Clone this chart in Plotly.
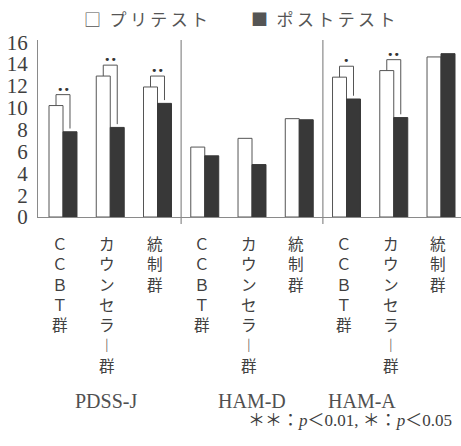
import plotly.graph_objects as go

# Scores before and after treatment, three scales x three groups
scales = ["PDSS-J", "HAM-D", "HAM-A"]
groups = ["ＣＣＢＴ群", "カウンセラ︱群", "統制群"]
pre_scores = [10.2, 12.9, 11.9, 6.4, 7.2, 9.0, 12.8, 13.4, 14.65]
post_scores = [7.8, 8.2, 10.4, 5.6, 4.8, 8.9, 10.8, 9.1, 14.95]
significance = ["**", "**", "**", "", "", "", "*", "**", ""]
y_ticks = [0, 2, 4, 6, 8, 10, 12, 14, 16]

W, H = 461, 446
ML, MR, MT, MB = 38, 0, 40, 229
PW, PH = W - ML - MR, H - MT - MB

SERIF = "'Liberation Serif', 'DejaVu Serif', serif"
JP = "'Noto Sans CJK JP', sans-serif"
TXT = "#404040"
LINE = "#8a8a8a"


def px_x(px):
    return (px - ML) / PW


def px_y(py):
    return (H - MB - py) / PH


positions = list(range(len(scales) * len(groups)))
labels = [g for _ in scales for g in groups]

BARW = 0.296

fig = go.Figure()
fig.add_trace(go.Bar(
    x=positions, y=pre_scores, width=BARW, offset=-BARW,
    marker=dict(color="white", line=dict(color="#555555", width=1)),
    name="プリテスト", showlegend=False,
))
fig.add_trace(go.Bar(
    x=positions, y=post_scores, width=BARW, offset=0,
    marker=dict(color="#383838", line=dict(color="#383838", width=1)),
    name="ポストテスト", showlegend=False,
))

# Significance brackets joining pre and post bars
annotations = []
for i, (pre, post, sig) in enumerate(zip(pre_scores, post_scores, significance)):
    if not sig:
        continue
    top = pre + 1.0
    xl, xr = i - BARW / 2, i + BARW / 2
    fig.add_trace(go.Scatter(
        x=[xl, xl, xr, xr], y=[pre, top, top, post + 0.3],
        mode="lines", line=dict(color="#555555", width=1),
        showlegend=False, hoverinfo="skip",
    ))
    annotations.append(dict(
        x=i, y=top, xref="x", yref="y", yanchor="bottom", yshift=-3,
        text="•" * len(sig), showarrow=False,
        font=dict(family="DejaVu Sans", size=11, color="#333333"),
    ))

# Vertical (stacked) group labels under each bar pair
for i, lab in enumerate(labels):
    annotations.append(dict(
        x=i, y=0, xref="x", yref="y", xanchor="center", yanchor="top",
        xshift=-3, yshift=-13,
        text="<br>".join(lab), showarrow=False, align="center",
        font=dict(family=JP, size=15.6, color=TXT),
    ))

# Scale names
for xpos, name, shift in [(1, scales[0], -4), (4, scales[1], 0), (6.33, scales[2], 0)]:
    annotations.append(dict(
        x=xpos, y=px_y(401), xref="x", yref="paper", xshift=shift,
        xanchor="center", yanchor="middle", text=name, showarrow=False,
        font=dict(family=SERIF, size=20, color="#505050"),
    ))

# Legend
annotations.append(dict(
    x=px_x(82), y=px_y(18), xref="paper", yref="paper", xanchor="left", yanchor="middle",
    text="□\u2002プ\u2009リ\u2009テ\u2009ス\u2009ト", showarrow=False,
    font=dict(family=JP, size=17, color="#555555"),
))
annotations.append(dict(
    x=px_x(249), y=px_y(18), xref="paper", yref="paper", xanchor="left", yanchor="middle",
    text="■\u2002ポ\u2009ス\u2009ト\u2009テ\u2009ス\u2009ト", showarrow=False,
    font=dict(family=JP, size=17, color="#555555"),
))

# Footnote
annotations.append(dict(
    x=px_x(454), y=px_y(420), xref="paper", yref="paper", xanchor="right", yanchor="middle",
    text="＊＊：<i>p</i>＜0.01, ＊：<i>p</i>＜0.05", showarrow=False,
    font=dict(family=SERIF + ", 'Noto Sans CJK JP'", size=17, color=TXT),
))

# Dividers between scales
shapes = []
for xd in [2.5, 5.5]:
    shapes.append(dict(
        type="line", xref="x", yref="paper", x0=xd, x1=xd, y0=px_y(224), y1=1,
        line=dict(color=LINE, width=1.2),
    ))

fig.update_layout(
    width=W, height=H,
    margin=dict(l=ML, r=MR, t=MT, b=MB, pad=0),
    paper_bgcolor="white", plot_bgcolor="white",
    barmode="overlay",
    showlegend=False,
    annotations=annotations,
    shapes=shapes,
    xaxis=dict(
        range=[-0.529, 8.423], showgrid=False, zeroline=False,
        showline=True, linecolor=LINE, linewidth=1.2,
        showticklabels=False, ticks="", fixedrange=True,
    ),
    yaxis=dict(
        range=[0, 16.2], tickvals=y_ticks, ticktext=[str(v) for v in y_ticks],
        showgrid=False, zeroline=False,
        showline=True, linecolor=LINE, linewidth=1.2,
        ticks="outside", ticklen=5, tickcolor="rgba(0,0,0,0)",
        tickfont=dict(family=SERIF, size=21, color=TXT), fixedrange=True,
    ),
)

fig.write_html("out.html", config={"displayModeBar": False})
